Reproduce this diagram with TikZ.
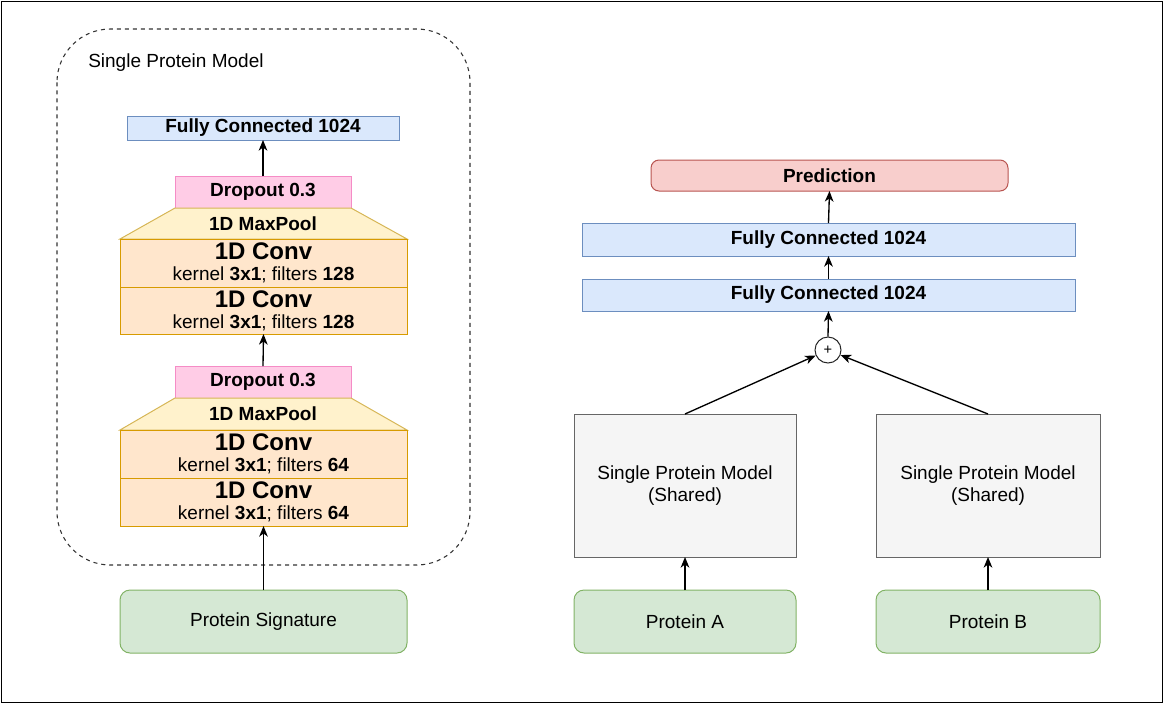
\documentclass[tikz,border=0pt]{standalone}
\usepackage{fontspec}
\setmainfont{Liberation Sans}
\usetikzlibrary{arrows.meta}
\definecolor{fcfill}{HTML}{DAE8FC}
\definecolor{fcline}{HTML}{6C8EBF}
\definecolor{dofill}{HTML}{FFCCE6}
\definecolor{doline}{HTML}{F58CC6}
\definecolor{mpfill}{HTML}{FFF2CC}
\definecolor{mpline}{HTML}{D6B656}
\definecolor{cvfill}{HTML}{FFE6CC}
\definecolor{cvline}{HTML}{D79B00}
\definecolor{grfill}{HTML}{D5E8D4}
\definecolor{grline}{HTML}{82B366}
\definecolor{rdfill}{HTML}{F8CECC}
\definecolor{rdline}{HTML}{B85450}
\definecolor{gyfill}{HTML}{F5F5F5}
\definecolor{gyline}{HTML}{666666}
\begin{document}
\begin{tikzpicture}[x=0.75pt,y=-0.75pt,
  sz/.style 2 args={minimum width=#1*0.75pt, minimum height=#2*0.75pt},
  box/.style={draw, inner sep=0pt, outer sep=0pt, line width=0.75pt, align=center,
    font=\fontsize{14.25}{17}\selectfont},
  fcbox/.style={box, fill=fcfill, draw=fcline, font=\bfseries\fontsize{14.25}{17}\selectfont},
  dobox/.style={box, fill=dofill, draw=doline, font=\bfseries\fontsize{14.25}{17}\selectfont},
  cvbox/.style={box, fill=cvfill, draw=cvline, font=\fontsize{14.25}{16}\selectfont},
  grbox/.style={box, fill=grfill, draw=grline, rounded corners=7.5pt},
  rdbox/.style={box, fill=rdfill, draw=rdline, rounded corners=6pt, font=\bfseries\fontsize{14.25}{17}\selectfont},
  gybox/.style={box, fill=gyfill, draw=gyline},
  mptext/.style={inner sep=0pt, font=\bfseries\fontsize{14.25}{17}\selectfont},
  arr/.style={-{Stealth[length=8pt,width=6.5pt,inset=2.4pt]}, line width=1pt}
]
\useasboundingbox (0,0) rectangle (1164,704);
\draw[line width=1.2pt] (1.5,1.5) rectangle (1162.5,702.5);

% dashed container
\draw[line width=0.8pt, draw=black!80, dash pattern=on 3pt off 3pt, rounded corners=40pt]
  (57,29) rectangle (470,565);
\node[anchor=west, inner sep=0pt, font=\fontsize{14.25}{17}\selectfont] (spmlabel) at (88,63) {Single Protein Model};

% left column
\node[fcbox, sz={272}{24}] (fcl) at (263,128) {Fully Connected 1024};
\node[dobox, sz={176}{32}] (do1) at (263,192) {Dropout 0.3};
\draw[fill=mpfill, draw=mpline, line width=0.75pt] (175,208) -- (351,208) -- (407,239) -- (120,239) -- cycle;
\node[mptext] (mp1) at (263,223.5) {1D MaxPool};
\node[cvbox, sz={287}{48}] (cv1) at (263.5,263) {{\bfseries\fontsize{18}{20}\selectfont 1D Conv}\\kernel \textbf{3x1}; filters \textbf{128}};
\node[cvbox, sz={287}{47}] (cv2) at (263.5,310.5) {{\bfseries\fontsize{18}{20}\selectfont 1D Conv}\\kernel \textbf{3x1}; filters \textbf{128}};

\node[dobox, sz={176}{32}] (do2) at (263,382) {Dropout 0.3};
\draw[fill=mpfill, draw=mpline, line width=0.75pt] (175,398) -- (351,398) -- (407,430) -- (120,430) -- cycle;
\node[mptext] (mp2) at (263,414) {1D MaxPool};
\node[cvbox, sz={287}{48}] (cv3) at (263.5,454) {{\bfseries\fontsize{18}{20}\selectfont 1D Conv}\\kernel \textbf{3x1}; filters \textbf{64}};
\node[cvbox, sz={287}{48}] (cv4) at (263.5,502) {{\bfseries\fontsize{18}{20}\selectfont 1D Conv}\\kernel \textbf{3x1}; filters \textbf{64}};

\node[grbox, sz={287}{63}] (psig) at (263.5,621.5) {Protein Signature};

\draw[arr] (do1.north) -- (fcl.south);
\draw[arr] (do2.north) -- (cv2.south);
\draw[arr] (psig.north) -- (cv4.south);

% right column
\node[rdbox, sz={357}{31}] (pred) at (829.5,175.5) {Prediction};
\node[fcbox, sz={493}{33}] (fc1) at (828.5,239.5) {Fully Connected 1024};
\node[fcbox, sz={493}{32}] (fc2) at (828.5,295) {Fully Connected 1024};
\node[circle, draw=black!85, fill=white, line width=0.75pt, minimum size=19.5pt, inner sep=0pt,
  font=\fontsize{11}{12}\selectfont] (plus) at (828,350) {+};
\node[gybox, sz={222}{143}] (spma) at (685,485.5) {Single Protein Model\\(Shared)};
\node[gybox, sz={224}{143}] (spmb) at (988,485.5) {Single Protein Model\\(Shared)};
\node[grbox, sz={222}{63}] (pa) at (685,621.5) {Protein A};
\node[grbox, sz={224}{63}] (pb) at (988,621.5) {Protein B};

\draw[arr] (fc1.north) -- (pred.south);
\draw[arr] (fc2.north) -- (fc1.south);
\draw[arr] (plus.north) -- (fc2.south);
\draw[arr] (spma.north) -- (plus);
\draw[arr] (spmb.north) -- (plus);
\draw[arr] (pa.north) -- (spma.south);
\draw[arr] (pb.north) -- (spmb.south);
\end{tikzpicture}
\end{document}
